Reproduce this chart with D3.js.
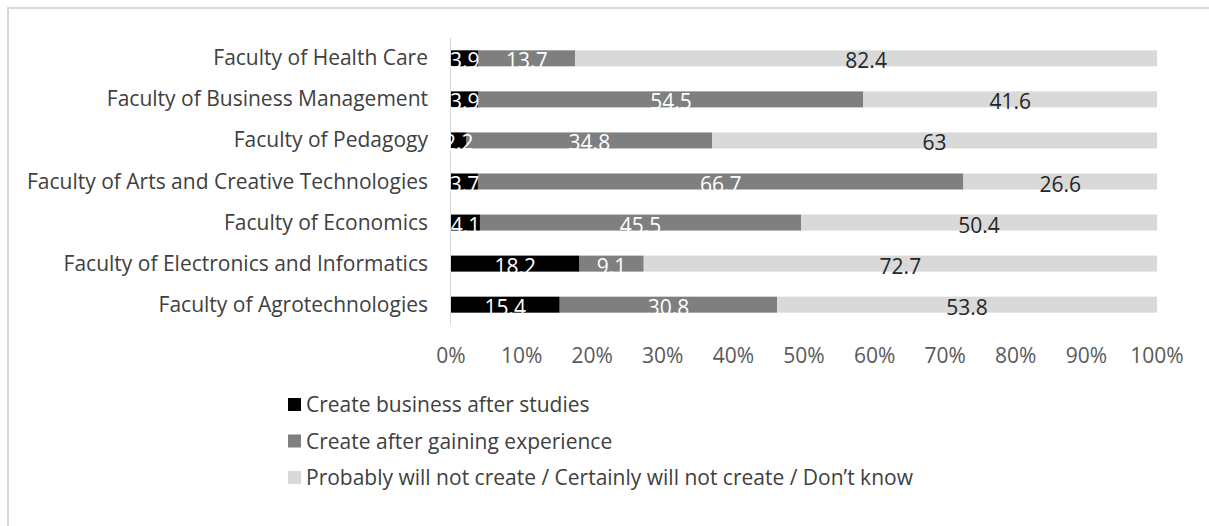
<!DOCTYPE html>
<html>
<head>
<meta charset="utf-8">
<script src="https://cdn.jsdelivr.net/npm/d3@7"></script>
<style>
  html, body { margin: 0; padding: 0; background: #fff; }
  svg { display: block; font-family: "Open Sans", sans-serif; }
</style>
</head>
<body>
<div id="chart"></div>
<script>
const svgWidth = 1209;
const svgHeight = 526;

const faculties = [
  "Faculty of Health Care",
  "Faculty of Business Management",
  "Faculty of Pedagogy",
  "Faculty of Arts and Creative Technologies",
  "Faculty of Economics",
  "Faculty of Electronics and Informatics",
  "Faculty of Agrotechnologies",
];

const seriesNames = [
  "Create business after studies",
  "Create after gaining experience",
  "Probably will not create / Certainly will not create / Don\u2019t know",
];

const afterStudies = [3.9, 3.9, 2.2, 3.7, 4.1, 18.2, 15.4];
const afterExperience = [13.7, 54.5, 34.8, 66.7, 45.5, 9.1, 30.8];
const willNotCreate = [82.4, 41.6, 63, 26.6, 50.4, 72.7, 53.8];

const tickValues = [0, 0.1, 0.2, 0.3, 0.4, 0.5, 0.6, 0.7, 0.8, 0.9, 1];

const colors = ["#000000", "#7f7f7f", "#d9d9d9"];
const labelColors = ["#ffffff", "#ffffff", "#262626"];
const fontSize = "21px";

const keys = ["a", "b", "c"];
const rows = faculties.map((name, i) => ({
  name,
  a: afterStudies[i],
  b: afterExperience[i],
  c: willNotCreate[i],
}));

const stacked = d3.stack().keys(keys).offset(d3.stackOffsetExpand)(rows);

const svg = d3
  .select("#chart")
  .append("svg")
  .attr("width", svgWidth)
  .attr("height", svgHeight);

// chart area border (only top and left fall inside the picture)
svg.append("rect")
  .attr("x", 8)
  .attr("y", 8)
  .attr("width", svgWidth + 10)
  .attr("height", svgHeight + 10)
  .attr("fill", "none")
  .attr("stroke", "#d9d9d9")
  .attr("stroke-width", 2);

const xScale = d3.scaleLinear().domain([0, 1]).range([451, 1157]);
const yScale = d3.scaleBand().domain(faculties).range([38, 325]).paddingInner(0.61).paddingOuter(0.3);

// category axis line
svg.append("line")
  .attr("x1", 450.5)
  .attr("x2", 450.5)
  .attr("y1", 38)
  .attr("y2", 325)
  .attr("stroke", "#d9d9d9")
  .attr("stroke-width", 1);

const layers = svg.selectAll("g.layer")
  .data(stacked)
  .join("g")
  .attr("class", "layer")
  .attr("fill", (d, i) => colors[i]);

layers.selectAll("rect")
  .data((d) => d)
  .join("rect")
  .attr("x", (d) => xScale(d[0]))
  .attr("y", (d) => yScale(d.data.name))
  .attr("width", (d) => xScale(d[1]) - xScale(d[0]))
  .attr("height", yScale.bandwidth());

const labelLayers = svg.selectAll("g.labels")
  .data(stacked)
  .join("g")
  .attr("class", "labels")
  .attr("fill", (d, i) => labelColors[i]);

labelLayers.selectAll("text")
  .data((d) => d.map((v) => ({ v, key: d.key })))
  .join("text")
  .attr("x", (d) => xScale((d.v[0] + d.v[1]) / 2))
  .attr("y", (d) => yScale(d.v.data.name) + yScale.bandwidth() / 2 + 10)
  .attr("text-anchor", "middle")
  .attr("font-size", fontSize)
  .text((d) => d.v.data[d.key]);

// category labels
svg.selectAll("text.cat")
  .data(faculties)
  .join("text")
  .attr("class", "cat")
  .attr("x", 428)
  .attr("y", (d) => yScale(d) + yScale.bandwidth() / 2 + 7)
  .attr("text-anchor", "end")
  .attr("font-size", fontSize)
  .attr("fill", "#404040")
  .text((d) => d);

// x ticks
svg.selectAll("text.tick")
  .data(tickValues)
  .join("text")
  .attr("class", "tick")
  .attr("x", (d) => xScale(d))
  .attr("y", 363)
  .attr("text-anchor", "middle")
  .attr("font-size", fontSize)
  .attr("fill", "#595959")
  .text((d) => d3.format(".0%")(d));

// legend
const legend = svg.selectAll("g.legend")
  .data(seriesNames)
  .join("g")
  .attr("class", "legend")
  .attr("transform", (d, i) => `translate(288, ${404.5 + i * 36.5})`);

legend.append("rect")
  .attr("x", 0)
  .attr("y", -6.5)
  .attr("width", 13)
  .attr("height", 13)
  .attr("fill", (d, i) => colors[i]);

legend.append("text")
  .attr("x", 18)
  .attr("y", 7.5)
  .attr("font-size", fontSize)
  .attr("fill", "#404040")
  .text((d) => d);
</script>
</body>
</html>
